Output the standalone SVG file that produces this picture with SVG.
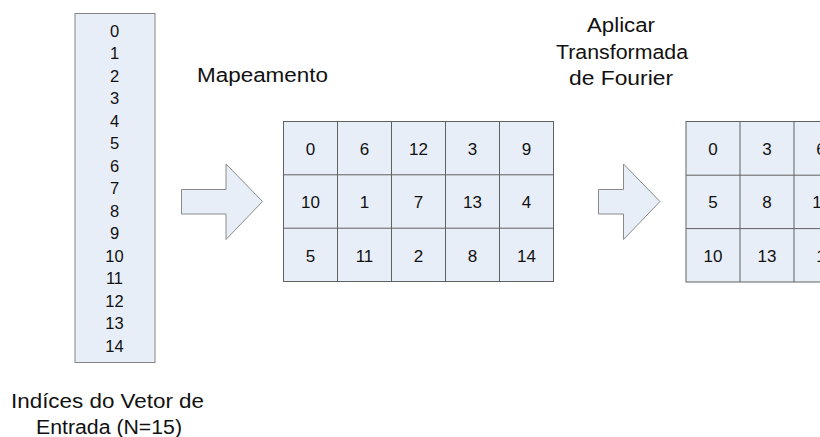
<svg xmlns="http://www.w3.org/2000/svg" width="820" height="437" viewBox="0 0 820 437">
  <style>
    .box { fill: #E8EEF8; stroke: #858585; stroke-width: 1; }
    .cell { fill: #E8EEF8; stroke: #606060; stroke-width: 1; }
    .arrow { fill: #E8EEF8; stroke: #8A8A8A; stroke-width: 1; }
    text { font-family: "Liberation Sans", Arial, sans-serif; fill: #111; }
    .num { font-size: 16.5px; text-anchor: middle; }
    .gnum { font-size: 17px; text-anchor: middle; }
    .lbl { font-size: 20px; }
    .mid { text-anchor: middle; }
  </style>
  <rect width="820" height="437" fill="#FFFFFF"/>

  <!-- input index vector -->
  <g id="vector">
    <rect class="box" x="75" y="13.5" width="80" height="349"/>
    <text class="num" x="114.5" y="36.5">0</text>
    <text class="num" x="114.5" y="59">1</text>
    <text class="num" x="114.5" y="81.5">2</text>
    <text class="num" x="114.5" y="104">3</text>
    <text class="num" x="114.5" y="126.5">4</text>
    <text class="num" x="114.5" y="149">5</text>
    <text class="num" x="114.5" y="171.5">6</text>
    <text class="num" x="114.5" y="194">7</text>
    <text class="num" x="114.5" y="216.5">8</text>
    <text class="num" x="114.5" y="239">9</text>
    <text class="num" x="114.5" y="261.5">10</text>
    <text class="num" x="114.5" y="284">11</text>
    <text class="num" x="114.5" y="306.5">12</text>
    <text class="num" x="114.5" y="329">13</text>
    <text class="num" x="114.5" y="351.5">14</text>
  </g>
  <g id="vector-label">
    <text class="lbl mid" x="107.5" y="408" textLength="193" lengthAdjust="spacingAndGlyphs">Indíces do Vetor de</text>
    <text class="lbl mid" x="109" y="434" textLength="146" lengthAdjust="spacingAndGlyphs">Entrada (N=15)</text>
  </g>

  <!-- block arrows -->
  <g id="connectors">
    <polygon class="arrow" points="181.5,189.5 226,189.5 226,164 262.5,201.5 226,239.5 226,214 181.5,214"/>
    <polygon class="arrow" points="598.5,189.5 623.5,189.5 623.5,164 660,201.5 623.5,239.5 623.5,214 598.5,214"/>
  </g>

  <g id="mapping-label">
    <text class="lbl" x="197" y="82" textLength="131" lengthAdjust="spacingAndGlyphs">Mapeamento</text>
  </g>

  <!-- mapped 3x5 matrix -->
  <g id="matrix">
    <rect class="cell" x="283.5" y="121.5" width="270" height="160"/>
    <path class="cell" d="M337.5 121.5V281.5M391.5 121.5V281.5M445.5 121.5V281.5M499.5 121.5V281.5M283.5 174.8H553.5M283.5 228.2H553.5"/>
    <text class="gnum" x="310.5" y="154.5">0</text>
    <text class="gnum" x="364.5" y="154.5">6</text>
    <text class="gnum" x="418.5" y="154.5">12</text>
    <text class="gnum" x="472.5" y="154.5">3</text>
    <text class="gnum" x="526.5" y="154.5">9</text>
    <text class="gnum" x="310.5" y="208">10</text>
    <text class="gnum" x="364.5" y="208">1</text>
    <text class="gnum" x="418.5" y="208">7</text>
    <text class="gnum" x="472.5" y="208">13</text>
    <text class="gnum" x="526.5" y="208">4</text>
    <text class="gnum" x="310.5" y="261.5">5</text>
    <text class="gnum" x="364.5" y="261.5">11</text>
    <text class="gnum" x="418.5" y="261.5">2</text>
    <text class="gnum" x="472.5" y="261.5">8</text>
    <text class="gnum" x="526.5" y="261.5">14</text>
  </g>

  <g id="fourier-label">
    <text class="lbl mid" x="621" y="32" textLength="68" lengthAdjust="spacingAndGlyphs">Aplicar</text>
    <text class="lbl mid" x="622" y="58.5" textLength="132" lengthAdjust="spacingAndGlyphs">Transformada</text>
    <text class="lbl mid" x="621" y="85" textLength="104" lengthAdjust="spacingAndGlyphs">de Fourier</text>
  </g>

  <!-- transformed matrix (continues past the right edge) -->
  <g id="result">
    <rect class="cell" x="686" y="121.5" width="270" height="160.5"/>
    <path class="cell" d="M740 121.5V282M794 121.5V282M686 175.2H956M686 228.6H956"/>
    <text class="gnum" x="713" y="154.5">0</text>
    <text class="gnum" x="767" y="154.5">3</text>
    <text class="gnum" x="821" y="154.5">6</text>
    <text class="gnum" x="713" y="208">5</text>
    <text class="gnum" x="767" y="208">8</text>
    <text class="gnum" x="821" y="208">11</text>
    <text class="gnum" x="713" y="261.5">10</text>
    <text class="gnum" x="767" y="261.5">13</text>
    <text class="gnum" x="821" y="261.5">1</text>
  </g>
</svg>
